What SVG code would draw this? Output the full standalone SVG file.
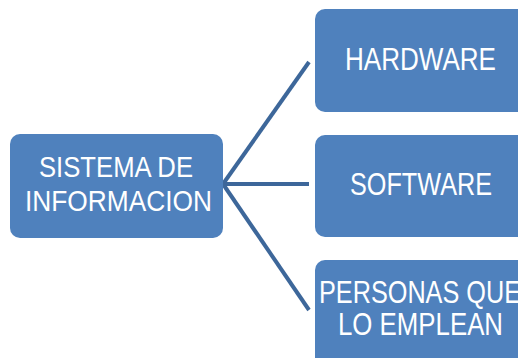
<svg xmlns="http://www.w3.org/2000/svg" width="518" height="358" viewBox="0 0 518 358">
<style>
.box{fill:#4f81bd;}
.t{fill:#ffffff;font-family:"Liberation Sans",Arial,sans-serif;text-anchor:middle;}
.c{stroke:#3d679a;stroke-width:4;fill:none;}
</style>
<rect width="518" height="358" fill="#ffffff"/>
<g id="connectors">
<line class="c" x1="223" y1="184" x2="309" y2="62"/>
<line class="c" x1="223" y1="184" x2="309" y2="184"/>
<line class="c" x1="223" y1="184" x2="309" y2="310"/>
</g>
<g id="sistema">
<rect class="box" x="10" y="134" width="213" height="104" rx="10"/>
<text class="t" x="116" y="177" font-size="29" textLength="154" lengthAdjust="spacingAndGlyphs">SISTEMA DE</text>
<text class="t" x="118.5" y="211" font-size="29" textLength="187" lengthAdjust="spacingAndGlyphs">INFORMACION</text>
</g>
<g id="hardware">
<rect class="box" x="315" y="9" width="220" height="103" rx="10"/>
<text class="t" x="420.5" y="70" font-size="32" textLength="151" lengthAdjust="spacingAndGlyphs">HARDWARE</text>
</g>
<g id="software">
<rect class="box" x="315" y="135" width="220" height="102" rx="10"/>
<text class="t" x="421" y="195" font-size="32" textLength="142" lengthAdjust="spacingAndGlyphs">SOFTWARE</text>
</g>
<g id="personas">
<rect class="box" x="315" y="260" width="220" height="120" rx="10"/>
<text class="t" x="420" y="303" font-size="32" textLength="202" lengthAdjust="spacingAndGlyphs">PERSONAS QUE</text>
<text class="t" x="420.5" y="335" font-size="32" textLength="165" lengthAdjust="spacingAndGlyphs">LO EMPLEAN</text>
</g>
</svg>
